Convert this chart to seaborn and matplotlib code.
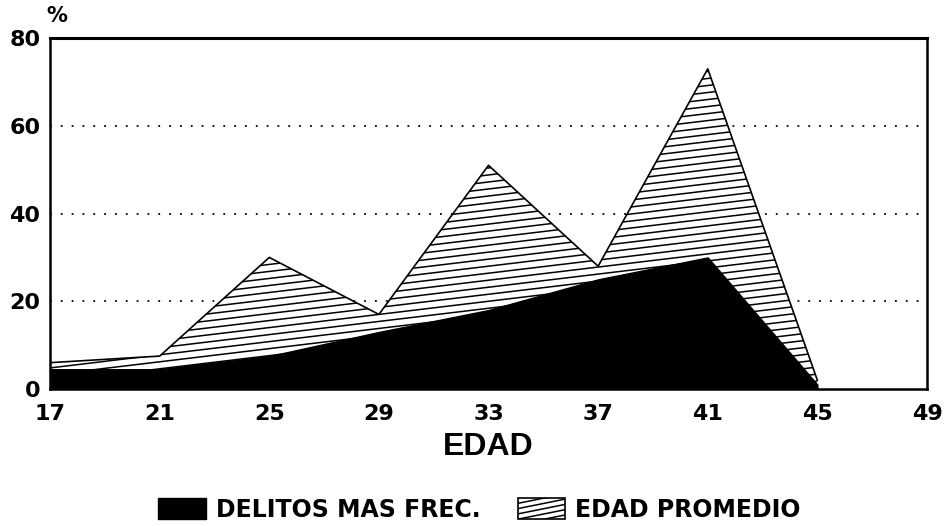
import numpy as np
import pandas as pd
import matplotlib
matplotlib.use("Agg")
import matplotlib.pyplot as plt
import seaborn as sns
from matplotlib.patches import Patch, Rectangle
from matplotlib.lines import Line2D
from matplotlib.legend_handler import HandlerBase

# Age groups on the x axis
edad = [17, 21, 25, 29, 33, 37, 41, 45]
# Percentages per series
delitos_mas_frec = [4.5, 4.5, 7.5, 13, 18, 25, 30, 1]
edad_promedio = [6, 7.5, 30, 17, 51, 28, 73, 2]

x_ticks = [17, 21, 25, 29, 33, 37, 41, 45, 49]
y_ticks = [0, 20, 40, 60, 80]

df = pd.DataFrame({"edad": edad, "delitos": delitos_mas_frec, "promedio": edad_promedio})

sns.set_theme(style="white")
plt.rcParams["font.family"] = ["DejaVu Sans"]
plt.rcParams["font.weight"] = "bold"
plt.rcParams["text.color"] = "black"
plt.rcParams["axes.labelcolor"] = "black"
plt.rcParams["xtick.color"] = "black"
plt.rcParams["ytick.color"] = "black"


class ShallowHatchHandler(HandlerBase):
    """Legend key: white box crossed by shallow rising lines."""

    def create_artists(self, legend, orig_handle, xdescent, ydescent,
                       width, height, fontsize, trans):
        x0, y0 = -xdescent, -ydescent
        rect = Rectangle((x0, y0), width, height, facecolor="white",
                         edgecolor="black", lw=1.2, transform=trans)
        artists = [rect]
        step = height / 4.0
        rise = height * 0.45
        for k in range(-2, 6):
            yb = y0 + k * step
            ln = Line2D([x0, x0 + width], [yb, yb + rise], color="black",
                        lw=1.1, transform=trans)
            ln.set_clip_path(rect)
            artists.append(ln)
        return artists


fig = plt.figure(figsize=(9.46, 5.26), dpi=100)
ax = fig.add_axes([0.0529, 0.2605, 0.927, 0.667])

# hatched series: white fill, custom shallow hatch lines clipped to the area
poly = ax.fill_between(df["edad"], 0, df["promedio"], facecolor="white", edgecolor="none", zorder=1)
clip_path = poly.get_paths()[0]
for c in np.arange(-0.4, 1.0, 0.02):
    ln = Line2D([0, 1], [c, c + 0.30], transform=ax.transAxes, color="black", lw=1.1, zorder=1.5)
    ax.add_line(ln)
    ln.set_clip_path(clip_path, ax.transData)
sns.lineplot(data=df, x="edad", y="promedio", color="black", lw=1.2, ax=ax, zorder=2)

# solid black series on top
ax.fill_between(df["edad"], 0, df["delitos"], facecolor="black", edgecolor="black", lw=1, zorder=3)

ax.set_xlim(17, 49)
ax.set_ylim(0, 80)
ax.set_xticks(x_ticks)
ax.set_xticklabels([str(v) for v in x_ticks], fontsize=16, fontweight="bold", color="black")
ax.set_yticks(y_ticks)
ax.set_yticklabels([str(v) for v in y_ticks], fontsize=16, fontweight="bold", color="black")
ax.tick_params(axis="x", length=0, pad=11)
ax.tick_params(axis="y", length=0, pad=7)

for yv in [20, 40, 60]:
    ax.axhline(yv, color="black", lw=1.3, linestyle=(0, (1, 5)), zorder=0.5)

for side in ["left", "right", "bottom"]:
    ax.spines[side].set_color("black")
    ax.spines[side].set_linewidth(1.8)
ax.spines["top"].set_color("black")
ax.spines["top"].set_linewidth(2.2)

ax.set_xlabel("EDAD", fontsize=23, fontweight="bold", color="black",
              family=["Liberation Sans", "DejaVu Sans"])
ax.xaxis.set_label_coords(0.5, -0.166)
ax.xaxis.label.set_va("center")
ax.set_ylabel("")
fig.text(0.0605, 0.969, "%", fontsize=15, fontweight="bold", color="black",
         ha="center", va="center")

handles = [
    Patch(facecolor="black", edgecolor="black"),
    Patch(facecolor="white", edgecolor="black"),
]
leg = fig.legend(handles, ["DELITOS MAS FREC.", "EDAD PROMEDIO"], loc="center left",
                 bbox_to_anchor=(0.145, 0.031), ncol=2, frameon=False,
                 prop={"size": 17, "weight": "bold"}, handlelength=2.0, handleheight=1.0,
                 columnspacing=1.6, handletextpad=0.42,
                 handler_map={handles[1]: ShallowHatchHandler()})
for t in leg.get_texts():
    t.set_color("black")

fig.savefig("out.png", dpi=100)
